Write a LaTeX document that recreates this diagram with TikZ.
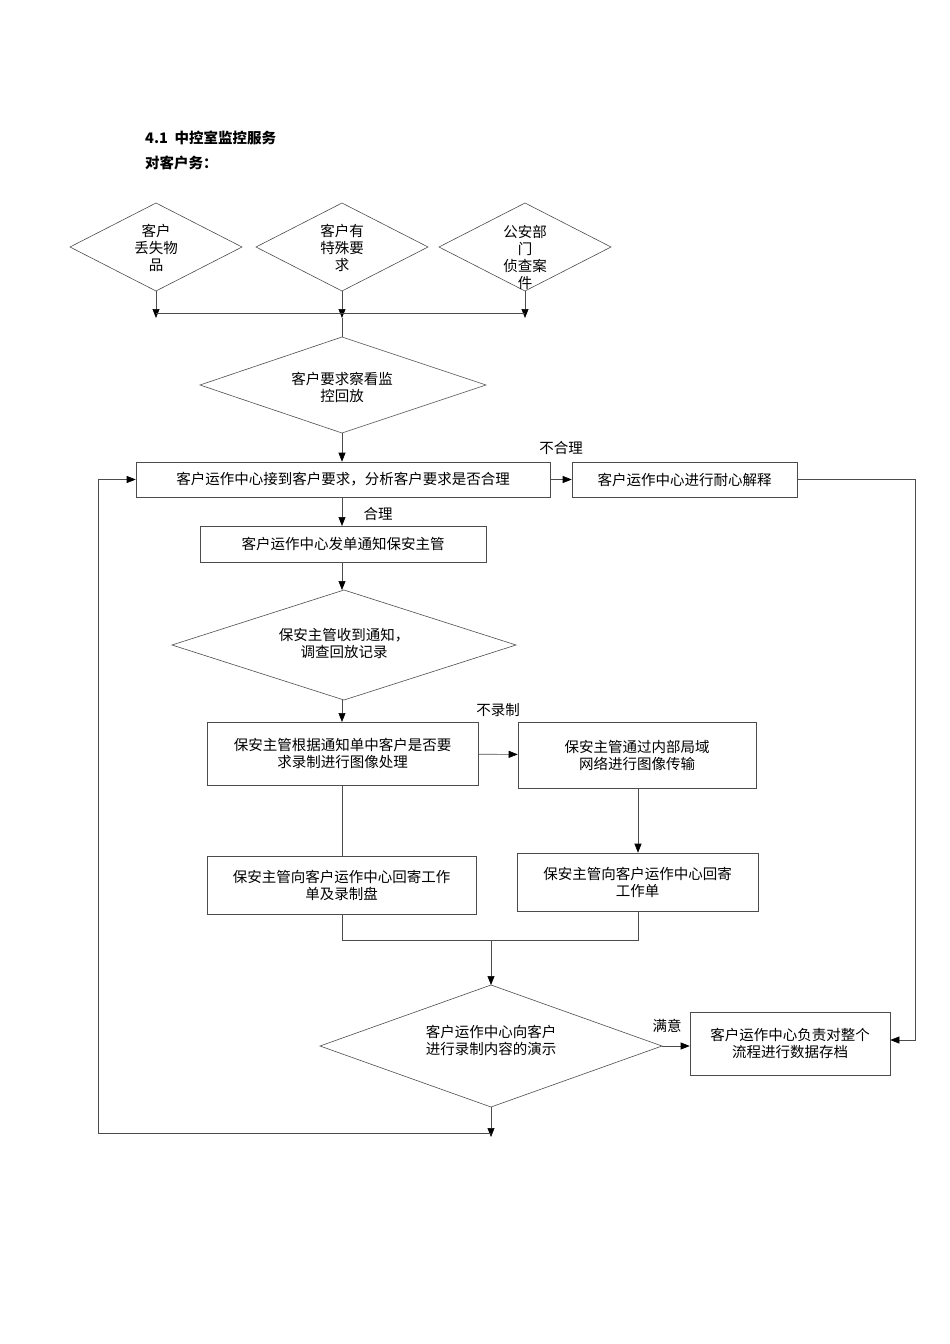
\documentclass[tikz,border=0pt]{standalone}
\usepackage{fontspec}
\setmainfont{Noto Sans CJK SC}
\usetikzlibrary{shapes.geometric,arrows.meta}
\begin{document}
\begin{tikzpicture}[x=1pt,y=-1pt,
  every node/.style={font=\fontsize{14.5}{17}\selectfont,align=center,inner sep=0},
  bx/.style={draw=black!70,line width=0.6pt,minimum width=#1},
  ln/.style={draw=black!70,line width=0.6pt},
  ar/.style={ln,-{Triangle[length=9pt,width=7pt,fill=black,color=black]}},
  lb/.style={font=\fontsize{14.5}{17}\selectfont}]
\useasboundingbox (0,0) rectangle (950,1344);
\node[anchor=west,font=\bfseries\fontsize{14.5}{16}\selectfont] (t1) at (145,138) {4.1 \ 中控室监控服务};
\node[anchor=west,font=\bfseries\fontsize{14.5}{16}\selectfont] (t2) at (145,163) {对客户务：};
\draw[ln] (70,247)--(156,203)--(242,247)--(156,291)--cycle;
\node (d1) at (156,248) {客户\\丢失物\\品};
\draw[ln] (256,247)--(342,203)--(428,247)--(342,291)--cycle;
\node (d2) at (342,248) {客户有\\特殊要\\求};
\draw[ln] (439,247)--(525,203)--(611,247)--(525,291)--cycle;
\node (d3) at (525,257) {公安部\\门\\侦查案\\件};
\coordinate (a1) at (156,318); \coordinate (a2) at (342,318); \coordinate (a3) at (525,318);
\draw[ar] (156,291)--(a1);
\draw[ar] (342,291)--(a2);
\draw[ar] (525,291)--(a3);
\draw[ln] (156,313)--(525,313);
\draw[ln] (200,385)--(342,337)--(486,385)--(342,433)--cycle;
\node (d4) at (342,387) {客户要求察看监\\控回放};
\draw[ln] (a2)--(342,337);
\node[bx=414pt,minimum height=35pt] (b1) at (343,479.5) {客户运作中心接到客户要求，分析客户要求是否合理};
\draw[ar] (342,433)--(b1.north-|342,0);
\node[bx=225pt,minimum height=35pt] (b2) at (684.5,479.5) {客户运作中心进行耐心解释};
\draw[ar] (b1)--(b2);
\node[lb] (l1) at (561,448) {不合理};
\node[bx=286pt,minimum height=36pt] (b3) at (343,544) {客户运作中心发单通知保安主管};
\draw[ar] (342,497)--(342,526);
\node[lb] (l2) at (378,514) {合理};
\draw[ln] (172,645)--(344,590)--(516,645)--(344,700)--cycle;
\node (d5) at (344,643) {保安主管收到通知，\\调查回放记录};
\draw[ar] (342,562)--(342,590);
\node[bx=271pt,minimum height=63pt] (b4) at (342.5,753.5) {保安主管根据通知单中客户是否要\\求录制进行图像处理};
\draw[ar] (342,700)--(342,722);
\node[bx=238pt,minimum height=66pt] (b5) at (637,755) {保安主管通过内部局域\\网络进行图像传输};
\draw[ar] (b4)--(b5);
\node[lb] (l3) at (498,710) {不录制};
\node[bx=269pt,minimum height=58pt] (b6) at (341.5,885) {保安主管向客户运作中心回寄工作\\单及录制盘};
\node[bx=241pt,minimum height=58pt] (b7) at (637.5,882) {保安主管向客户运作中心回寄\\工作单};
\draw[ln] (342,785)--(b6.north-|342,0);
\draw[ar] (638,788)--(b7.north-|638,0);
\draw[ln] (342,914)--(342,940)--(638,940)--(638,911);
\draw[ln] (320,1046)--(491,985)--(662,1046)--(491,1107)--cycle;
\node (d6) at (491,1040) {客户运作中心向客户\\进行录制内容的演示};
\draw[ar] (491,940)--(491,985);
\node[bx=200pt,minimum height=63pt] (b8) at (790,1043.5) {客户运作中心负责对整个\\流程进行数据存档};
\draw[ar] (662,1046)--(b8.west|-0,1046);
\node[lb] (l4) at (667,1026) {满意};
\draw[ar] (b2.east)--(915,479.5)--(915,1040)--(b8.east|-0,1040);
\coordinate (bt) at (491,1137);
\draw[ar] (491,1107)--(bt);
\draw[ar] (491,1133)--(98,1133)--(98,479.5)--(b1.west);
\end{tikzpicture}
\end{document}
